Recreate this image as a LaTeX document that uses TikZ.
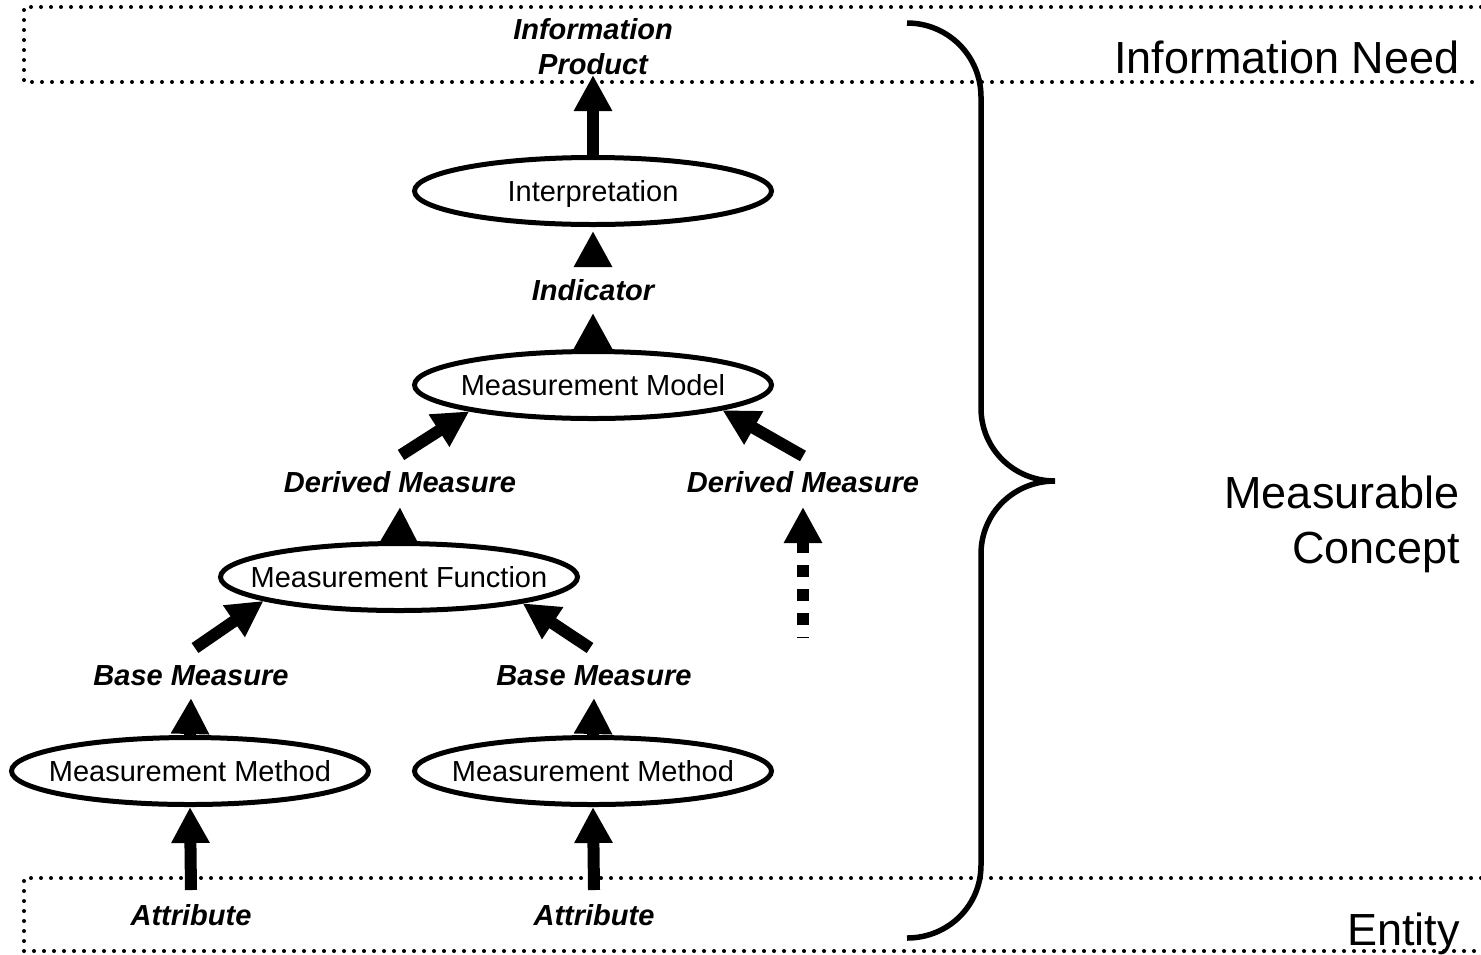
\documentclass[tikz,border=0pt]{standalone}
\usepackage{fontspec}
\setmainfont{Liberation Sans}
\usetikzlibrary{arrows.meta,calc,shapes.geometric}
\begin{document}
\begin{tikzpicture}[x=0.5pt,y=-0.5pt,
  dotline/.style={line width=2pt, dash pattern=on 0pt off 5pt, line cap=round},
  oval/.style={ellipse, draw, line width=2.5pt, fill=white, minimum width=178.5pt, minimum height=33.5pt, inner xsep=-25pt, inner ysep=0pt, font=\fontsize{14.5pt}{17.5pt}\selectfont, text height=10.4pt, text depth=0pt},
  lbl/.style={inner sep=0pt, font=\fontsize{14.5pt}{17.5pt}\selectfont\bfseries\itshape, text height=10.4pt, text depth=0pt},
  big/.style={inner sep=0pt, font=\fontsize{22.5pt}{27.5pt}\selectfont},
  arr/.style={line width=6pt, -{Triangle[width=18pt,length=18pt]}},
  bracestyle/.style={line width=2.75pt}
]
\useasboundingbox (0,0) rectangle (1481,954);

% dotted boxes
\draw[dotline] (1481,7) -- (24,7) -- (24,82) -- (1481,82);
\draw[dotline] (1481,878) -- (24,878) -- (24,951) -- (1481,951);

% brace
\draw[bracestyle] (907,23) .. controls (948,23) and (981,56) .. (981,97) -- (981,408)
  .. controls (981,449) and (1014,481) .. (1055,481)
  .. controls (1014,481) and (981,513) .. (981,554) -- (981,865)
  .. controls (981,906) and (948,938) .. (907,938);

% side texts
\node[big, anchor=base east] (need) at (1460,73) {Information Need};
\node[big, anchor=east, align=right] (concept) at (1460,524) {Measurable\\Concept};
\node[big, anchor=base east] (entity) at (1460,945) {Entity};

% ovals
\node[oval] (interp) at (593,191) {Interpretation};
\node[oval] (model) at (593,385) {Measurement Model};
\node[oval] (mf) at (399,577) {Measurement Function};
\node[oval] (mm1) at (190,771) {Measurement Method};
\node[oval] (mm2) at (593,771) {Measurement Method};

% labels
\node[inner sep=0pt, font=\fontsize{14.5pt}{17.5pt}\selectfont\bfseries\itshape, align=center] (infoprod) at (593,47) {Information\\Product};
\node[lbl] (ind) at (593,290) {Indicator};
\node[lbl] (dm1) at (400,482) {Derived Measure};
\node[lbl] (dm2) at (803,482) {Derived Measure};
\node[lbl] (bm1) at (191,675) {Base Measure};
\node[lbl] (bm2) at (594,675) {Base Measure};
\node[lbl] (at1) at (191,915) {Attribute};
\node[lbl] (at2) at (594,915) {Attribute};

% arrows
\draw[arr] (interp.north) -- ($(infoprod.center)+(0,28)$);
\draw[arr] ($(ind.center)+(0,-26)$) -- ($(interp.south)+(0,4)$);
\draw[arr] (model.north) -- ($(ind.center)+(0,23)$);
\draw[arr] ($(dm1.center)+(1,-27)$) -- (model.192);
\draw[arr] ($(dm2.center)+(0,-26)$) -- (model.349);
\draw[arr] (mf.north) -- ($(dm1.center)+(0,25)$);
\draw[arr, dash pattern=on 6pt off 6pt, dash phase=5.5pt] ($(dm2.center)+(0,156)$) -- ($(dm2.center)+(0,25)$);
\draw[arr] ($(bm1.center)+(4,-27)$) -- (mf.190);
\draw[arr] ($(bm2.center)+(-4,-27)$) -- (mf.348);
\draw[arr] (mm1.north) -- ($(bm1.center)+(0,23)$);
\draw[arr] (mm2.north) -- ($(bm2.center)+(0,23)$);
\draw[arr] ($(at1.center)+(0,-25)$) -- (mm1.south);
\draw[arr] ($(at2.center)+(0,-25)$) -- (mm2.south);
\end{tikzpicture}
\end{document}
